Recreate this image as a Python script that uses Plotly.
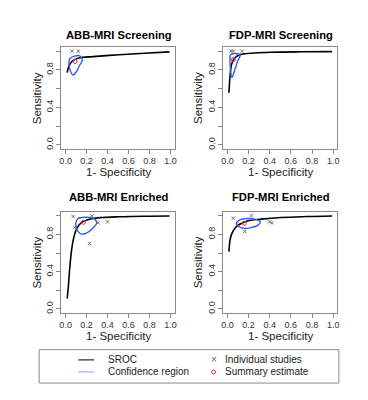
import plotly.graph_objects as go

W, H = 368, 400

panel_titles = ["ABB-MRI Screening", "FDP-MRI Screening", "ABB-MRI Enriched", "FDP-MRI Enriched"]
x_title = "1- Specificity"
y_title = "Sensitivity"
tick_vals = [0, 0.2, 0.4, 0.6, 0.8, 1.0]
x_tick_text = ["0.0", "0.2", "0.4", "0.6", "0.8", "1.0"]
y_tick_text = ["0.0", "", "0.4", "", "0.8", ""]

# ---- ABB-MRI Screening ----
abb_scr_study_fpr = [0.06, 0.12]
abb_scr_study_sens = [1.0, 1.0]
abb_scr_sroc_fpr = [0.015, 0.025, 0.04, 0.06, 0.087, 0.135, 0.26, 0.51, 0.75, 0.99]
abb_scr_sroc_sens = [0.77, 0.82, 0.86, 0.89, 0.91, 0.93, 0.942, 0.962, 0.978, 0.992]
abb_scr_region_fpr = [0.04, 0.087, 0.134, 0.16, 0.134, 0.103, 0.071, 0.056, 0.034, 0.04]
abb_scr_region_sens = [0.92, 0.947, 0.95, 0.905, 0.85, 0.78, 0.745, 0.763, 0.834, 0.92]
abb_scr_summary = (0.09, 0.89)

# ---- FDP-MRI Screening ----
fdp_scr_study_fpr = [0.034, 0.056, 0.14]
fdp_scr_study_sens = [1.0, 1.0, 1.0]
fdp_scr_sroc_fpr = [0.015, 0.024, 0.04, 0.071, 0.134, 0.258, 0.41, 0.7, 0.99]
fdp_scr_sroc_sens = [0.557, 0.717, 0.86, 0.93, 0.966, 0.98, 0.988, 0.993, 0.995]
fdp_scr_region_fpr = [0.03, 0.05, 0.09, 0.115, 0.12, 0.1, 0.075, 0.055, 0.045, 0.038, 0.03, 0.025, 0.025, 0.03]
fdp_scr_region_sens = [0.96, 0.972, 0.972, 0.965, 0.95, 0.9, 0.82, 0.75, 0.72, 0.73, 0.8, 0.88, 0.93, 0.96]
fdp_scr_summary = (0.056, 0.91)

# ---- ABB-MRI Enriched ----
abb_enr_study_fpr = [0.072, 0.25, 0.087, 0.31, 0.40, 0.228]
abb_enr_study_sens = [0.993, 1.0, 0.875, 0.925, 0.935, 0.703]
abb_enr_sroc_fpr = [0.015, 0.025, 0.04, 0.056, 0.078, 0.103, 0.15, 0.228, 0.353, 0.51, 0.75, 0.99]
abb_enr_sroc_sens = [0.112, 0.23, 0.446, 0.625, 0.768, 0.857, 0.928, 0.964, 0.982, 0.99, 0.996, 0.998]
abb_enr_region_fpr = [0.103, 0.118, 0.181, 0.259, 0.297, 0.259, 0.197, 0.15, 0.118, 0.097, 0.103]
abb_enr_region_sens = [0.946, 0.971, 0.985, 0.974, 0.928, 0.867, 0.814, 0.803, 0.832, 0.893, 0.946]
abb_enr_summary = (0.17, 0.93)

# ---- FDP-MRI Enriched ----
fdp_enr_study_fpr = [0.056, 0.227, 0.398, 0.42, 0.164, 0.09]
fdp_enr_study_sens = [0.974, 1.0, 0.935, 0.925, 0.832, 0.9]
fdp_enr_sroc_fpr = [0.015, 0.024, 0.04, 0.071, 0.118, 0.196, 0.32, 0.507, 0.75, 0.99]
fdp_enr_sroc_sens = [0.615, 0.732, 0.803, 0.867, 0.91, 0.946, 0.964, 0.982, 0.992, 0.998]
fdp_enr_region_fpr = [0.087, 0.118, 0.18, 0.258, 0.311, 0.29, 0.227, 0.164, 0.108, 0.087]
fdp_enr_region_sens = [0.928, 0.957, 0.971, 0.964, 0.936, 0.9, 0.875, 0.864, 0.885, 0.928]
fdp_enr_summary = (0.16, 0.92)

legend_labels = ["SROC", "Confidence region", "Individual studies", "Summary estimate"]

panels = [
    (abb_scr_study_fpr, abb_scr_study_sens, abb_scr_sroc_fpr, abb_scr_sroc_sens,
     abb_scr_region_fpr, abb_scr_region_sens, abb_scr_summary),
    (fdp_scr_study_fpr, fdp_scr_study_sens, fdp_scr_sroc_fpr, fdp_scr_sroc_sens,
     fdp_scr_region_fpr, fdp_scr_region_sens, fdp_scr_summary),
    (abb_enr_study_fpr, abb_enr_study_sens, abb_enr_sroc_fpr, abb_enr_sroc_sens,
     abb_enr_region_fpr, abb_enr_region_sens, abb_enr_summary),
    (fdp_enr_study_fpr, fdp_enr_study_sens, fdp_enr_sroc_fpr, fdp_enr_sroc_sens,
     fdp_enr_region_fpr, fdp_enr_region_sens, fdp_enr_summary),
]

# pixel boxes (left, right, top, bottom)
boxes = [(52, 166.5, 39.5, 141), (215.5, 331, 39.5, 141),
         (52, 166.5, 204.6, 305.4), (215.5, 331, 204.6, 305.4)]
title_y = [26.7, 26.7, 189.5, 189.5]
xlab_y = [164, 164, 328.5, 328.5]
ylab_x = [27.5, 190, 27.5, 190]

BLUE = "#2f5ff0"
GRAY = "#8a8a8a"
TXT = "#222222"
FONT = "Liberation Sans, Arial, sans-serif"

def px(x):
    return x / W

def py(y):
    return 1 - y / H

fig = go.Figure()
layout = dict(width=W, height=H, margin=dict(l=0, r=0, t=0, b=0),
              paper_bgcolor="white", plot_bgcolor="white", showlegend=False,
              font=dict(family=FONT, color=TXT))
annotations = []
shapes = []

for i, (sx, sy, rx, ry, cx, cy, summ) in enumerate(panels):
    n = "" if i == 0 else str(i + 1)
    xa, ya = "x" + n, "y" + n
    l, r, t, b = boxes[i]
    layout["xaxis" + n] = dict(domain=[px(l), px(r)], anchor=ya, range=[-0.04, 1.04],
                               showgrid=False, zeroline=False, showline=True, mirror=True,
                               linecolor=GRAY, linewidth=1, ticks="outside", ticklen=4,
                               tickcolor=GRAY, tickvals=tick_vals, ticktext=x_tick_text,
                               tickfont=dict(size=9, color="#333333"), fixedrange=True)
    layout["yaxis" + n] = dict(domain=[py(b), py(t)], anchor=xa, range=[-0.04, 1.04],
                               showgrid=False, zeroline=False, showline=True, mirror=True,
                               linecolor=GRAY, linewidth=1, ticks="outside", ticklen=4,
                               tickcolor=GRAY, tickvals=tick_vals, ticktext=y_tick_text,
                               tickangle=-90, tickfont=dict(size=9, color="#333333"),
                               fixedrange=True)
    fig.add_trace(go.Scatter(x=rx, y=ry, mode="lines", line=dict(color="black", width=1.6, shape="spline"),
                             xaxis=xa, yaxis=ya))
    fig.add_trace(go.Scatter(x=cx, y=cy, mode="lines", line=dict(color=BLUE, width=1.4, shape="spline", smoothing=1.0),
                             xaxis=xa, yaxis=ya))
    fig.add_trace(go.Scatter(x=sx, y=sy, mode="markers",
                             marker=dict(symbol="x-thin", size=3.5, line=dict(width=0.9, color="#666666")),
                             xaxis=xa, yaxis=ya, cliponaxis=False))
    fig.add_trace(go.Scatter(x=[summ[0]], y=[summ[1]], mode="markers",
                             marker=dict(symbol="circle-open", size=4, color="#e03030", line=dict(width=1)),
                             xaxis=xa, yaxis=ya))
    cxp = (l + r) / 2
    annotations.append(dict(text="<b>" + panel_titles[i] + "</b>", x=px(cxp + 1), y=py(title_y[i]),
                            xref="paper", yref="paper", showarrow=False, xanchor="center", yanchor="middle",
                            font=dict(size=11.2, color="black")))
    annotations.append(dict(text=x_title, x=px(cxp), y=py(xlab_y[i]), xref="paper", yref="paper",
                            showarrow=False, xanchor="center", yanchor="middle", font=dict(size=11.5, color=TXT)))
    annotations.append(dict(text=y_title, x=px(ylab_x[i]), y=py((t + b) / 2), xref="paper", yref="paper",
                            showarrow=False, xanchor="center", yanchor="middle", textangle=-90,
                            font=dict(size=11.5, color=TXT)))

# legend box
shapes.append(dict(type="rect", xref="paper", yref="paper", x0=px(29.5), x1=px(332.5), y0=py(376), y1=py(342.5),
                   line=dict(color=GRAY, width=1)))
row_y = [352.8, 364.8]
shapes.append(dict(type="line", xref="paper", yref="paper", x0=px(69), x1=px(85), y0=py(row_y[0]), y1=py(row_y[0]),
                   line=dict(color="black", width=1)))
shapes.append(dict(type="line", xref="paper", yref="paper", x0=px(69), x1=px(85), y0=py(row_y[1]), y1=py(row_y[1]),
                   line=dict(color="#7f9dff", width=1)))
shapes.append(dict(type="circle", xref="paper", yref="paper", x0=px(203.8), x1=px(207.8),
                   y0=py(row_y[1] + 2), y1=py(row_y[1] - 2), line=dict(color="#e03030", width=1)))
annotations.append(dict(text="×", x=px(205.8), y=py(row_y[0]), xref="paper", yref="paper", showarrow=False,
                        xanchor="center", yanchor="middle", font=dict(size=10, color="#555555")))
for k, (lab, xx, yy) in enumerate([(legend_labels[0], 97, row_y[0]), (legend_labels[1], 97, row_y[1]),
                                    (legend_labels[2], 215, row_y[0]), (legend_labels[3], 215, row_y[1])]):
    annotations.append(dict(text=lab, x=px(xx), y=py(yy), xref="paper", yref="paper", showarrow=False,
                            xanchor="left", yanchor="middle", font=dict(size=10, color=TXT)))

layout["annotations"] = annotations
layout["shapes"] = shapes
fig.update_layout(**layout)
fig.write_html("out.html")
